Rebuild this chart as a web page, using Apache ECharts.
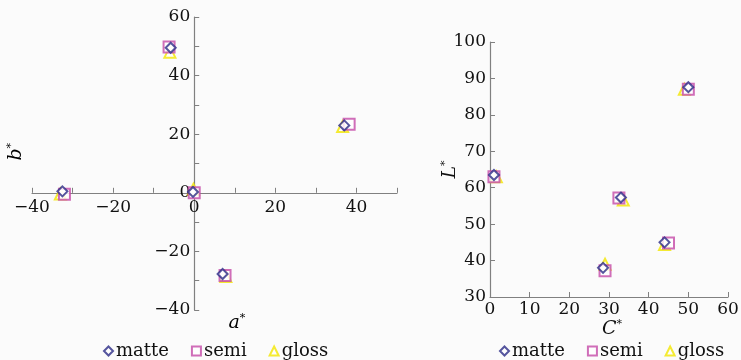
<!DOCTYPE html>
<html><head><meta charset="utf-8">
<script src="https://cdn.jsdelivr.net/npm/echarts@6/dist/echarts.min.js"></script>
<style>html,body{margin:0;padding:0;background:#fbfbfb}#c{width:741px;height:360px}</style>
</head><body><div id="c"></div>
<script>
var seriesNames = ['matte', 'semi', 'gloss'];
// left: a*, b*
var matteAB = [[-32.5, 0.5], [-5.8, 49.5], [37, 23], [-0.3, 0.3], [7, -27.7]];
var semiAB  = [[-32, -0.5], [-6.2, 49.8], [38.2, 23.4], [0, 0], [7.6, -28.2]];
var glossAB = [[-33, -0.4], [-6, 48], [36.6, 22.6], [-0.2, 1.2], [7.8, -28.6]];
// right: C*, L*
var matteCL = [[1, 63.5], [50, 87.6], [33, 57.3], [44, 45], [28.5, 38]];
var semiCL  = [[1, 63], [50, 87], [32.5, 57.2], [45, 44.8], [29, 37.2]];
var glossCL = [[1.6, 63], [49, 87], [33.6, 56.6], [44, 44.4], [29, 39]];

var colors = ['#2b2b86', '#c44aa8', '#f2e600'];
var symbols = ['emptyDiamond', 'emptyRect', 'emptyTriangle'];
var sizes = [10, 11, 11];
var font = 'DejaVu Serif';
var axisColor = '#808080';

// left grid geometry
var L = {left: 32, right: 397, top: 17, bottom: 310, xmin: -40, xmax: 50, ymin: -40, ymax: 60};
var zeroY = L.bottom - (0 - L.ymin) / (L.ymax - L.ymin) * (L.bottom - L.top);
var zeroX = L.left + (0 - L.xmin) / (L.xmax - L.xmin) * (L.right - L.left);

var rich = {
  i: {fontFamily: font, fontStyle: 'italic', fontSize: 19, color: '#111'},
  s: {fontFamily: font, fontSize: 11, color: '#111', verticalAlign: 'top', padding: [0, 0, 9, 0]}
};
function nm(letter) { return '{i|' + letter + '}{s|*}'; }
function minus(v) { return v < 0 ? '\u2212' + (-v) : '' + v; }
function valAxis(o) {
  var base = {
    type: 'value',
    axisLine: {show: true, onZero: false, lineStyle: {color: axisColor, width: 1.2}},
    axisTick: {show: true, inside: true, length: 5, lineStyle: {color: axisColor}},
    splitLine: {show: false},
    axisLabel: {fontFamily: font, fontSize: 17, color: '#111', margin: 4, formatter: minus}
  };
  for (var k in o) base[k] = o[k];
  return base;
}

var chart = echarts.init(document.getElementById('c'));
var seriesList = [];
var groups = [[matteAB, semiAB, glossAB], [matteCL, semiCL, glossCL]];
for (var g = 0; g < 2; g++) {
  for (var s = 0; s < 3; s++) {
    seriesList.push({
      name: seriesNames[s], type: 'scatter', xAxisIndex: g, yAxisIndex: g,
      data: groups[g][s], symbol: symbols[s], symbolSize: sizes[s],
      itemStyle: {color: colors[s], borderWidth: 2}, z: 10 - s
    });
  }
}
function legend(left) {
  return {
    data: seriesNames.map(function (n, i) { return {name: n, icon: symbols[i]}; }),
    itemWidth: 9, itemHeight: 9, itemGap: 22, top: 337, left: left,
    textStyle: {fontFamily: font, fontSize: 18, color: '#111', padding: [0, 0, 0, -2]},
    selectedMode: false
  };
}

chart.setOption({
  backgroundColor: '#fbfbfb',
  animation: false,
  grid: [
    {left: L.left, right: 741 - L.right, top: L.top, bottom: 360 - L.bottom, outerBoundsMode: 'none', containLabel: false},
    {left: 490, right: 13, top: 42, bottom: 360 - 297, outerBoundsMode: 'none', containLabel: false}
  ],
  legend: [legend(98), legend(494)],
  xAxis: [
    valAxis({gridIndex: 0, min: L.xmin, max: L.xmax, interval: 20, position: 'bottom',
      offset: -(L.bottom - zeroY),
      minorTick: {show: true, splitNumber: 2, length: 5, lineStyle: {color: axisColor}},
      axisLabel: {fontFamily: font, fontSize: 17, color: '#111', margin: 6,
        formatter: function (v) { return v >= 50 ? '' : minus(v); }}
    }),
    valAxis({gridIndex: 1, min: 0, max: 60, interval: 10,
      name: nm('C'), nameLocation: 'middle', nameGap: 22, nameMoveOverlap: false,
      nameTextStyle: {rich: rich, padding: [0, 0, 0, 6]}
    })
  ],
  yAxis: [
    valAxis({gridIndex: 0, min: L.ymin, max: L.ymax, interval: 20, position: 'left',
      offset: -(zeroX - L.left),
      minorTick: {show: true, splitNumber: 2, length: 5, lineStyle: {color: axisColor}}
    }),
    valAxis({gridIndex: 1, min: 30, max: 100, interval: 10,
      name: nm('L'), nameLocation: 'middle', nameRotate: 90, nameGap: 30, nameMoveOverlap: false,
      nameTextStyle: {rich: rich}
    })
  ],
  series: seriesList
});
var pA = chart.convertToPixel({xAxisIndex: 0, yAxisIndex: 0}, [10.5, -44.3]);
var pB = chart.convertToPixel({xAxisIndex: 0, yAxisIndex: 0}, [-44, 14]);
chart.setOption({
  graphic: [
    {type: 'text', x: pA[0], y: pA[1], style: {text: nm('a'), rich: rich, align: 'center', verticalAlign: 'middle'}},
    {type: 'text', x: pB[0], y: pB[1], rotation: Math.PI / 2, style: {text: nm('b'), rich: rich, align: 'center', verticalAlign: 'middle'}}
  ]
});
</script></body></html>
